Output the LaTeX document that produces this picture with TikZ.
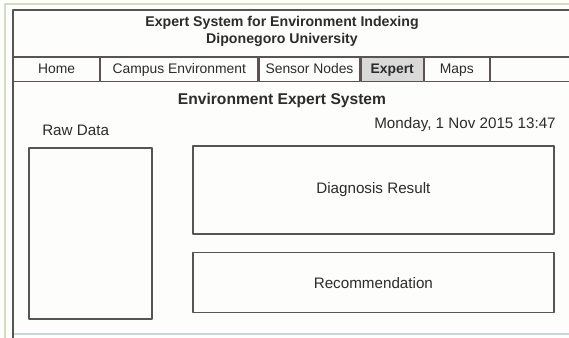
\documentclass[tikz,border=0pt]{standalone}
\usepackage{fontspec}
\setmainfont{Liberation Sans}
\usetikzlibrary{positioning}

\definecolor{txtgray}{HTML}{2C2C2C}
\definecolor{navline}{HTML}{5E5250}
\definecolor{boxline}{HTML}{555555}
\definecolor{tabgray}{HTML}{D9D9D9}
\definecolor{paper}{HTML}{FDFDFC}
\definecolor{outergreen}{HTML}{D3DBC3}
\definecolor{outerblue}{HTML}{C9D6DC}

\begin{document}
\begin{tikzpicture}[x=0.75pt, y=-0.75pt, line join=round]
\tikzstyle{navcell}=[draw=navline, line width=0.9pt, inner sep=0pt, minimum height=18pt, text height=7.6pt, text depth=2.2pt, anchor=north west, text=txtgray, font=\fontsize{10.4}{12}\selectfont]
\tikzstyle{panel}=[draw=boxline, line width=1.3pt, inner sep=0pt, anchor=north west, text=txtgray, font=\fontsize{11.4}{13}\selectfont]
\tikzstyle{bodytext}=[inner sep=0pt, text=txtgray, font=\fontsize{11.4}{13}\selectfont]
\tikzstyle{heading}=[inner sep=0pt, text=txtgray, font=\bfseries\fontsize{11.7}{14}\selectfont]
\tikzstyle{frameline}=[draw=boxline, line width=1.4pt]
\useasboundingbox (0,0) rectangle (569,337);
\clip (0,0) rectangle (569,337);
\fill[paper] (0,0) rectangle (569,337);

% page frame
\draw[outergreen, line width=1.2pt] (5,4) rectangle (620,360);
\draw[outerblue, line width=1.2pt] (13,334) -- (620,334);
\draw[frameline] (13,10) rectangle (620,360);
\draw[frameline] (13,57) -- (620,57);

\node[inner sep=0pt, align=center, text=txtgray, font=\bfseries\fontsize{10.6}{12.5}\selectfont] (title) at (282,31.5) {Expert System for Environment Indexing\\Diponegoro University};

% menu bar
\node[navcell, minimum width=64.5pt] (home) at (13,57) {Home};
\node[navcell, minimum width=117.75pt] (campus) at (home.north east) {Campus Environment};
\node[navcell, minimum width=75.75pt] (sensor) at (campus.north east) {Sensor Nodes};
\node[navcell, fill=tabgray, minimum width=46.5pt, font=\bfseries\fontsize{10.4}{12}\selectfont] (expert) at (sensor.north east) {Expert};
\node[navcell, minimum width=48.75pt] (maps) at (expert.north east) {Maps};
\node[navcell, minimum width=100pt] (blank) at (maps.north east) {};

\node[heading] (heading) at (282,100) {Environment Expert System};
\node[bodytext, anchor=west] (rawlabel) at (42,130) {Raw Data};
\node[bodytext, anchor=east] (date) at (556,125) {Monday, 1 Nov 2015 13:47};

% panels
\node[panel, minimum width=92.25pt, minimum height=128.25pt] (rawdata) at (28,147) {};
\node[panel, minimum width=270.75pt, minimum height=66pt] (diagnosis) at (192,145) {Diagnosis Result};
\node[panel, minimum width=270.75pt, minimum height=45pt, below=12.75pt of diagnosis] (recommend) {Recommendation};
\end{tikzpicture}
\end{document}
